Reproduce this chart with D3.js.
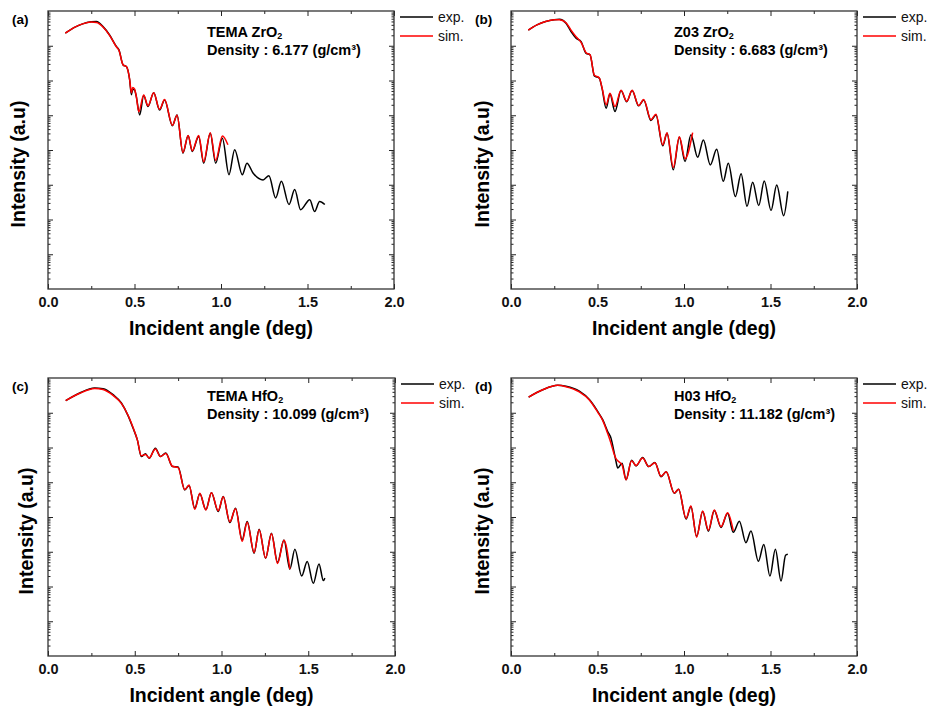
<!DOCTYPE html>
<html>
<head>
<meta charset="utf-8">
<script src="https://cdn.jsdelivr.net/npm/d3@7"></script>
<style>
  body { margin: 0; background: #fff; }
  text { font-family: "Liberation Sans", Arial, sans-serif; }
</style>
</head>
<body>
<div id="chart"></div>
<script>

// ---- data (intensity given as log10 values) ----

// (a) TEMA ZrO2
var aExpAngle = [0.10,0.15,0.20,0.25,0.28,0.318,0.356,0.395,0.41,0.434,0.453,0.472,0.482,0.49,0.50,0.51,0.53,0.553,0.578,0.611,0.645,0.674,0.719,0.746,0.78,0.81,0.834,0.871,0.90,0.938,0.969,1.008,1.046,1.079,1.123,1.15,1.185,1.243,1.277,1.316,1.349,1.393,1.426,1.46,1.513,1.541,1.57,1.60];
var aExpLog   = [7.36,7.52,7.63,7.69,7.70,7.55,7.31,6.98,6.88,6.45,6.40,6.02,5.59,5.75,5.73,5.55,5.01,5.57,5.25,5.65,5.15,5.44,4.70,5.01,3.91,4.41,3.96,4.39,3.62,4.48,3.62,4.34,3.29,4.01,3.29,3.62,3.34,3.14,3.26,2.62,3.10,2.43,2.86,2.28,2.57,2.23,2.52,2.43];
var aSimAngle = [0.10,0.15,0.20,0.25,0.28,0.318,0.356,0.395,0.41,0.434,0.453,0.472,0.482,0.49,0.50,0.51,0.525,0.553,0.578,0.611,0.645,0.674,0.719,0.746,0.78,0.81,0.834,0.871,0.90,0.938,0.969,1.008,1.04];
var aSimLog   = [7.36,7.52,7.63,7.68,7.67,7.54,7.30,6.97,6.87,6.45,6.40,6.03,5.65,5.80,5.76,5.55,5.10,5.58,5.27,5.65,5.17,5.45,4.71,5.00,3.93,4.42,3.98,4.42,3.66,4.50,3.70,4.40,4.15];

// (b) Z03 ZrO2
var bExpAngle = [0.10,0.15,0.20,0.25,0.28,0.318,0.347,0.376,0.405,0.434,0.457,0.482,0.51,0.526,0.55,0.572,0.601,0.636,0.669,0.70,0.738,0.767,0.809,0.838,0.877,0.902,0.938,0.973,1.006,1.04,1.079,1.112,1.152,1.189,1.227,1.256,1.297,1.33,1.364,1.397,1.432,1.464,1.503,1.536,1.576,1.60];
var bExpLog   = [7.45,7.60,7.70,7.75,7.76,7.65,7.41,7.22,7.12,6.78,6.74,6.13,6.07,5.78,5.20,5.61,5.11,5.71,5.39,5.71,5.27,5.44,4.85,5.01,4.12,4.48,3.43,4.37,3.67,4.44,3.79,4.29,3.57,4.02,3.10,3.62,2.66,3.32,2.38,3.07,2.40,3.11,2.26,2.99,2.11,2.81];
var bSimAngle = [0.10,0.15,0.20,0.25,0.28,0.318,0.347,0.376,0.405,0.434,0.457,0.482,0.51,0.526,0.55,0.572,0.601,0.636,0.669,0.70,0.738,0.767,0.809,0.838,0.877,0.902,0.938,0.973,1.006,1.05];
var bSimLog   = [7.45,7.60,7.70,7.75,7.75,7.66,7.45,7.26,7.10,6.80,6.74,6.15,6.08,5.80,5.30,5.63,5.25,5.72,5.40,5.72,5.28,5.45,4.87,5.03,4.15,4.50,3.50,4.38,3.75,4.50];

// (c) TEMA HfO2
var cExpAngle = [0.102,0.183,0.269,0.317,0.375,0.423,0.462,0.49,0.515,0.538,0.562,0.583,0.619,0.648,0.679,0.717,0.75,0.788,0.813,0.846,0.875,0.91,0.942,0.981,1.01,1.048,1.081,1.119,1.148,1.188,1.217,1.254,1.288,1.323,1.36,1.394,1.423,1.462,1.494,1.529,1.562,1.587,1.596];
var cExpLog   = [7.35,7.57,7.71,7.69,7.52,7.28,6.91,6.56,6.22,5.74,5.82,5.69,5.98,5.74,5.84,5.45,5.44,4.78,4.91,4.25,4.67,4.21,4.70,4.16,4.59,3.84,4.25,3.34,3.87,2.96,3.65,2.81,3.53,2.69,3.34,2.50,3.07,2.30,2.72,2.09,2.65,2.17,2.24];
var cSimAngle = [0.102,0.183,0.269,0.317,0.375,0.423,0.462,0.49,0.515,0.538,0.562,0.583,0.619,0.648,0.679,0.717,0.75,0.788,0.813,0.846,0.875,0.91,0.942,0.981,1.01,1.048,1.081,1.119,1.148,1.188,1.217,1.254,1.288,1.323,1.36,1.394];
var cSimLog   = [7.35,7.56,7.70,7.67,7.50,7.27,6.92,6.58,6.22,5.76,5.80,5.70,5.96,5.74,5.83,5.46,5.42,4.79,4.92,4.22,4.68,4.20,4.70,4.18,4.58,3.86,4.24,3.30,3.85,2.98,3.63,2.82,3.52,2.66,3.33,2.50];

// (d) H03 HfO2
var dExpAngle = [0.102,0.183,0.27,0.318,0.395,0.453,0.501,0.53,0.559,0.578,0.597,0.607,0.617,0.642,0.665,0.697,0.723,0.761,0.796,0.832,0.867,0.897,0.944,0.969,1.012,1.04,1.073,1.108,1.141,1.175,1.214,1.252,1.285,1.32,1.358,1.387,1.43,1.461,1.497,1.528,1.561,1.587,1.60];
var dExpLog   = [7.45,7.66,7.79,7.76,7.62,7.38,7.04,6.80,6.46,6.27,5.84,5.60,5.41,5.55,5.07,5.63,5.47,5.71,5.45,5.57,5.16,5.30,4.68,4.80,3.94,4.30,3.44,4.16,3.59,4.19,3.70,4.11,3.56,3.88,3.26,3.60,2.73,3.21,2.30,3.07,2.16,2.90,2.93];
var dSimAngle = [0.102,0.183,0.27,0.318,0.395,0.453,0.501,0.53,0.559,0.578,0.597,0.607,0.617,0.642,0.665,0.697,0.723,0.761,0.796,0.832,0.867,0.897,0.944,0.969,1.012,1.04,1.073,1.108,1.141,1.175,1.214,1.252,1.285];
var dSimLog   = [7.45,7.66,7.79,7.75,7.60,7.37,7.02,6.78,6.40,6.12,5.80,5.68,5.62,5.50,5.07,5.62,5.48,5.70,5.45,5.56,5.17,5.30,4.69,4.80,3.96,4.32,3.42,4.17,3.62,4.20,3.72,4.12,3.60];

// axis ticks
var xMajor = [0, 0.5, 1.0, 1.5, 2.0];
var xMinor = [0.25, 0.75, 1.25, 1.75];
var yDomain = [1, 1e8];

var legendNames = ["exp.", "sim."];
var colors = {exp: "#000000", sim: "#ff0000"};

// ---- layout ----
var panels = [
  {letter: "(a)", sample: "TEMA ZrO", density: "6.177",
   exp: [aExpAngle, aExpLog], sim: [aSimAngle, aSimLog],
   left: 48, top: 11, width: 346, height: 278, yLabelX: 25, noteDx: 159, noteY: [25.5, 44]},
  {letter: "(b)", sample: "Z03 ZrO", density: "6.683",
   exp: [bExpAngle, bExpLog], sim: [bSimAngle, bSimLog],
   left: 511, top: 11, width: 346, height: 278, yLabelX: 489, noteDx: 163, noteY: [25.5, 44]},
  {letter: "(c)", sample: "TEMA HfO", density: "10.099",
   exp: [cExpAngle, cExpLog], sim: [cSimAngle, cSimLog],
   left: 48, top: 378, width: 347, height: 278, yLabelX: 33, noteDx: 159, noteY: [22.5, 41]},
  {letter: "(d)", sample: "H03 HfO", density: "11.182",
   exp: [dExpAngle, dExpLog], sim: [dSimAngle, dSimLog],
   left: 511, top: 378, width: 346, height: 278, yLabelX: 489, noteDx: 163, noteY: [22.5, 41]}
];

var svg = d3.select("#chart")
  .append("svg")
    .attr("width", 932)
    .attr("height", 715)
    .style("background", "#fff");

function toPoints(series) {
  return series[0].map(function(a, i) { return {x: a, y: Math.pow(10, series[1][i])}; });
}

// minor log ticks 2..9 in every decade
var yMinor = [];
for (var dec = 0; dec < 8; dec++) {
  for (var k = 2; k <= 9; k++) yMinor.push(k * Math.pow(10, dec));
}
var yMajor = [];
for (var dec2 = 1; dec2 < 8; dec2++) yMajor.push(Math.pow(10, dec2));

panels.forEach(function(p) {

  var x = d3.scaleLinear().domain([0, 2]).range([p.left, p.left + p.width]);
  var y = d3.scaleLog().domain(yDomain).range([p.top + p.height, p.top]);

  var g = svg.append("g");

  // ticks (all pointing inward)
  function addAxis(axis, transform) {
    var ax = g.append("g").attr("transform", transform).call(axis);
    ax.select(".domain").remove();
    ax.selectAll(".tick line").attr("stroke", "#222").attr("stroke-width", 1);
    return ax;
  }

  var bottom = addAxis(d3.axisBottom(x).tickValues(xMajor).tickSize(-5).tickPadding(8)
      .tickFormat(d3.format(".1f")), "translate(0," + (p.top + p.height) + ")");
  bottom.selectAll("text")
    .attr("font-size", 14.5)
    .attr("font-weight", "bold")
    .attr("fill", "#111")
    .attr("font-family", "Liberation Sans, Arial, sans-serif");
  addAxis(d3.axisBottom(x).tickValues(xMinor).tickSize(-3).tickFormat(""), "translate(0," + (p.top + p.height) + ")");
  addAxis(d3.axisTop(x).tickValues(xMajor).tickSize(-5).tickFormat(""), "translate(0," + p.top + ")");
  addAxis(d3.axisTop(x).tickValues(xMinor).tickSize(-3).tickFormat(""), "translate(0," + p.top + ")");

  addAxis(d3.axisLeft(y).tickValues(yMajor).tickSize(-5).tickFormat(""), "translate(" + p.left + ",0)");
  addAxis(d3.axisLeft(y).tickValues(yMinor).tickSize(-2.5).tickFormat(""), "translate(" + p.left + ",0)");
  addAxis(d3.axisRight(y).tickValues(yMajor).tickSize(-5).tickFormat(""), "translate(" + (p.left + p.width) + ",0)");
  addAxis(d3.axisRight(y).tickValues(yMinor).tickSize(-2.5).tickFormat(""), "translate(" + (p.left + p.width) + ",0)");

  // curves
  var line = d3.line()
    .curve(d3.curveMonotoneX)
    .x(function(d) { return x(d.x); })
    .y(function(d) { return y(d.y); });

  g.append("path")
    .datum(toPoints(p.exp))
    .attr("fill", "none")
    .attr("stroke", colors.exp)
    .attr("stroke-width", 1.5)
    .attr("d", line);

  g.append("path")
    .datum(toPoints(p.sim))
    .attr("fill", "none")
    .attr("stroke", colors.sim)
    .attr("stroke-width", 1.5)
    .attr("d", line);

  // frame
  g.append("rect")
    .attr("x", p.left)
    .attr("y", p.top)
    .attr("width", p.width)
    .attr("height", p.height)
    .attr("fill", "none")
    .attr("stroke", "#333")
    .attr("stroke-width", 1.3);

  // axis titles
  g.append("text")
    .attr("x", p.left + p.width / 2)
    .attr("y", p.top + p.height + 46)
    .attr("text-anchor", "middle")
    .attr("font-size", 19.5)
    .attr("font-weight", "bold")
    .text("Incident angle (deg)");

  g.append("text")
    .attr("transform", "translate(" + p.yLabelX + "," + (p.top + p.height / 2 + 14) + ") rotate(-90)")
    .attr("text-anchor", "middle")
    .attr("font-size", 19.5)
    .attr("font-weight", "bold")
    .text("Intensity (a.u)");

  // panel letter
  g.append("text")
    .attr("x", p.left - 36)
    .attr("y", p.top + 13)
    .attr("font-size", 13.5)
    .attr("font-weight", "bold")
    .text(p.letter);

  // sample note
  var n1 = g.append("text")
    .attr("x", p.left + p.noteDx)
    .attr("y", p.top + p.noteY[0])
    .attr("font-size", 14.5)
    .attr("font-weight", "bold")
    .text(p.sample);
  n1.append("tspan")
    .attr("font-size", 9)
    .attr("dy", 2.5)
    .text("2");

  g.append("text")
    .attr("x", p.left + p.noteDx)
    .attr("y", p.top + p.noteY[1])
    .attr("font-size", 14.5)
    .attr("font-weight", "bold")
    .text("Density : " + p.density + " (g/cm³)");

  // legend
  ["exp", "sim"].forEach(function(key, i) {
    var ly = p.top + 6 + i * 19;
    g.append("line")
      .attr("x1", p.left + p.width + 6)
      .attr("x2", p.left + p.width + 39)
      .attr("y1", ly)
      .attr("y2", ly)
      .attr("stroke", colors[key])
      .attr("stroke-width", 1.5);
    g.append("text")
      .attr("x", p.left + p.width + 44)
      .attr("y", ly + 5)
      .attr("font-size", 14)
      .attr("fill", "#111")
      .text(legendNames[i]);
  });
});

</script>
</body>
</html>
